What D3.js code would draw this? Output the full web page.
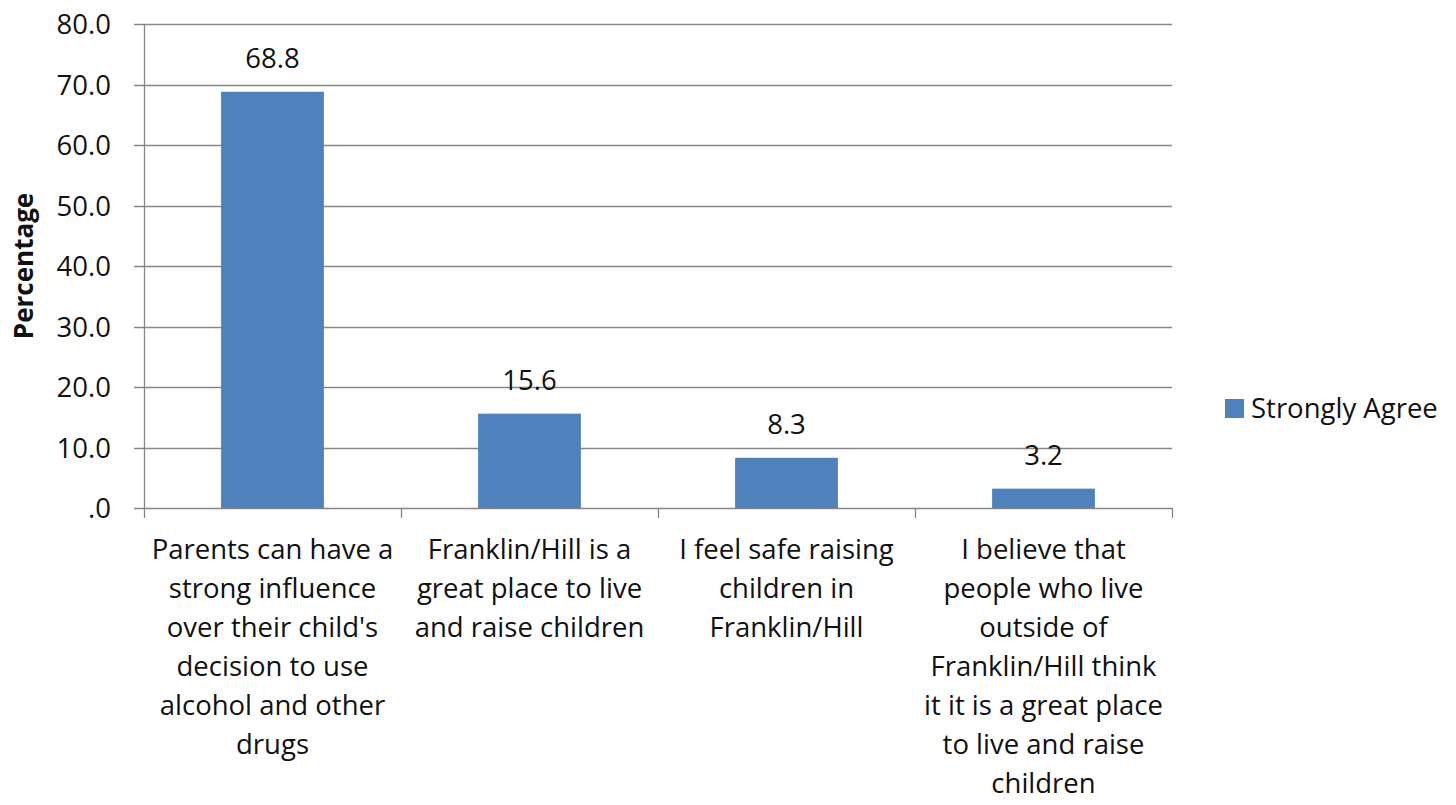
<!DOCTYPE html>
<html>
<head>
<meta charset="utf-8">
<script src="https://cdn.jsdelivr.net/npm/d3@7"></script>
<style>
  body { margin: 0; background: #fff; }
  svg text { font-family: "Open Sans", Lato, sans-serif; fill: #111; }
</style>
</head>
<body>
<div id="chart"></div>
<script>
// survey categories, each already split into the lines shown under the axis
const categories = [
  ["Parents can have a", "strong influence", "over their child's", "decision to use", "alcohol and other", "drugs"],
  ["Franklin/Hill is a", "great place to live", "and raise children"],
  ["I feel safe raising", "children in", "Franklin/Hill"],
  ["I believe that", "people who live", "outside of", "Franklin/Hill think", "it it is a great place", "to live and raise", "children"]
];
const values = [68.8, 15.6, 8.3, 3.2];
const yTicks = [0, 10, 20, 30, 40, 50, 60, 70, 80];
const seriesName = "Strongly Agree";

const width = 1456, height = 805;
const margin = {top: 24, left: 144, right: 284, bottom: 297};
const barColor = "#4f81bd";
const gridColor = "#868686";
const fontSize = "27.5px";

const svg = d3.select("#chart").append("svg")
  .attr("width", width)
  .attr("height", height);

const x = d3.scaleBand()
  .domain(d3.range(categories.length))
  .range([margin.left, width - margin.right])
  .paddingInner(0.6)
  .paddingOuter(0.3);

const y = d3.scaleLinear()
  .domain([0, 80])
  .range([height - margin.bottom, margin.top]);

// band edges for category separators
const step = x.step();
const x0 = margin.left;

// gridlines
svg.append("g")
  .selectAll("line")
  .data(yTicks)
  .join("line")
  .attr("x1", x0 - 10)
  .attr("x2", width - margin.right)
  .attr("y1", d => Math.round(y(d)) + 0.5)
  .attr("y2", d => Math.round(y(d)) + 0.5)
  .attr("stroke", gridColor)
  .attr("stroke-width", 1.3);

// y axis line
svg.append("line")
  .attr("x1", x0 + 0.5).attr("x2", x0 + 0.5)
  .attr("y1", y(80)).attr("y2", y(0) + 10)
  .attr("stroke", gridColor).attr("stroke-width", 1.3);

// x category ticks
svg.append("g")
  .selectAll("line")
  .data(d3.range(1, categories.length + 1))
  .join("line")
  .attr("x1", i => Math.round(x0 + i * step) + 0.5)
  .attr("x2", i => Math.round(x0 + i * step) + 0.5)
  .attr("y1", y(0))
  .attr("y2", y(0) + 10)
  .attr("stroke", gridColor).attr("stroke-width", 1.3);

// y tick labels
svg.append("g")
  .selectAll("text")
  .data(yTicks)
  .join("text")
  .attr("x", 111)
  .attr("y", d => y(d) + 10)
  .attr("text-anchor", "end")
  .style("font-size", fontSize)
  .text(d => d === 0 ? ".0" : d.toFixed(1));

// bars
svg.append("g")
  .selectAll("rect")
  .data(values)
  .join("rect")
  .attr("x", (d, i) => x(i))
  .attr("width", x.bandwidth())
  .attr("y", d => y(d))
  .attr("height", d => y(0) - y(d))
  .attr("fill", barColor);

// value labels
svg.append("g")
  .selectAll("text")
  .data(values)
  .join("text")
  .attr("x", (d, i) => x(i) + x.bandwidth() / 2)
  .attr("y", d => y(d) - 24)
  .attr("text-anchor", "middle")
  .style("font-size", fontSize)
  .text(d => d.toFixed(1));

// category labels
const catG = svg.append("g")
  .selectAll("text")
  .data(categories)
  .join("text")
  .attr("text-anchor", "middle")
  .style("font-size", fontSize);

catG.selectAll("tspan")
  .data((d, i) => d.map(line => ({line, i})))
  .join("tspan")
  .attr("x", d => x(d.i) + x.bandwidth() / 2)
  .attr("y", (d, j) => 559 + j * 39)
  .text(d => d.line);

// y axis title
svg.append("text")
  .attr("transform", `translate(33, ${y(40)}) rotate(-90)`)
  .attr("text-anchor", "middle")
  .style("font-size", "26px")
  .style("font-weight", "bold")
  .text("Percentage");

// legend
const legend = svg.append("g").attr("transform", "translate(1225, 399)");
legend.append("rect")
  .attr("width", 19).attr("height", 19)
  .attr("fill", barColor);
legend.append("text")
  .attr("x", 26).attr("y", 19)
  .style("font-size", fontSize)
  .text(seriesName);
</script>
</body>
</html>
